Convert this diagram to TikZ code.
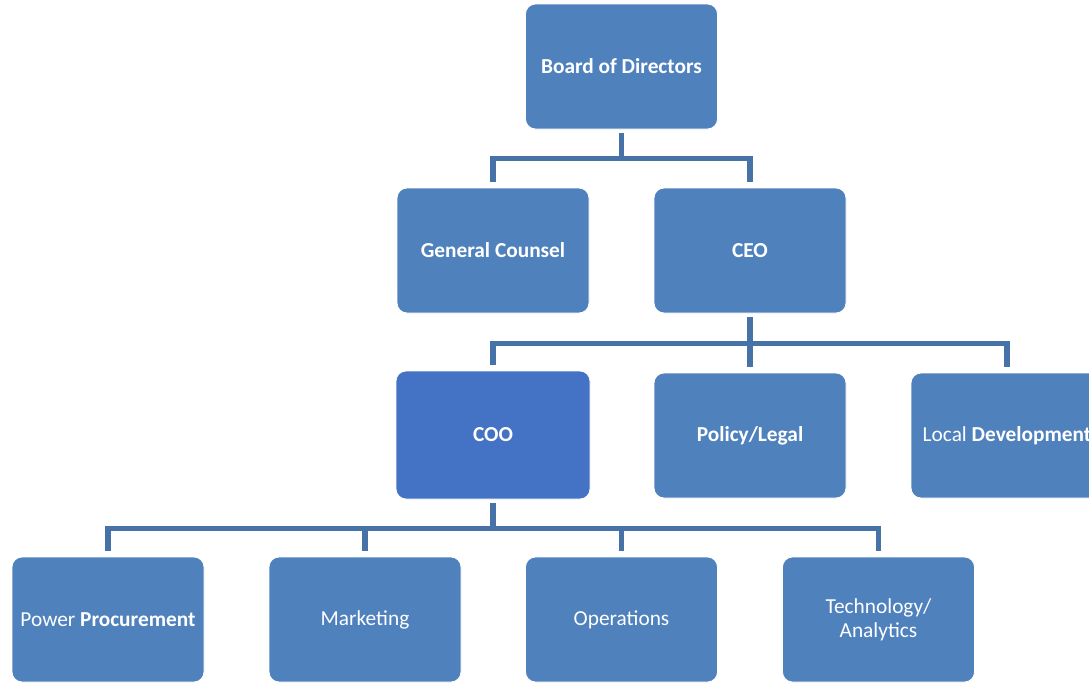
\documentclass[tikz,border=0pt]{standalone}
\usepackage{fontspec}
\setmainfont{Carlito}
\definecolor{boxblue}{HTML}{4F81BD}
\definecolor{cooblue}{HTML}{4472C4}
\definecolor{linkblue}{HTML}{4672A8}
\begin{document}
\begin{tikzpicture}[x=0.75pt,y=-0.75pt,
  orgbox/.style={draw=white,line width=0.6pt,fill=boxblue,rounded corners=7.5pt,
    minimum width=192*0.75pt,minimum height=125*0.75pt,inner sep=2pt,
    text=white,align=center,font=\fontsize{16}{18}\selectfont},
  link/.style={draw=linkblue,line width=3.8pt,shorten <=3pt,shorten >=4pt}]
\useasboundingbox (0,0) rectangle (1089,682);
\clip (0,0) rectangle (1089,682);

% top level
\node[orgbox] (board) at (621.5,66.5) {\textbf{Board of Directors}};

% second level
\node[orgbox] (gc)  at (493,250.5) {\textbf{General Counsel}};
\node[orgbox] (ceo) at (750,250.5) {\textbf{CEO}};

% third level
\node[orgbox,fill=cooblue,minimum width=194*0.75pt,minimum height=128*0.75pt] (coo) at (493,435) {\textbf{COO}};
\node[orgbox] (policy) at (750,435.5) {\textbf{Policy/Legal}};
\node[orgbox] (local)  at (1007,435.5) {Local \textbf{Development}};

% fourth level
\node[orgbox] (power) at (108,619.5) {Power \textbf{Procurement}};
\node[orgbox] (mkt)   at (365,619.5) {Marketing};
\node[orgbox] (ops)   at (621.5,619.5) {Operations};
\node[orgbox] (tech)  at (878.5,619.5) {Technology/\\Analytics};

% connectors
\draw[link] (board.south) -- ++(0,29) -| (gc.north);
\draw[link] (board.south) -- ++(0,29) -| (ceo.north);

\draw[link] (ceo.south) -- ++(0,30) -| (coo.north);
\draw[link] (ceo.south) -- (policy.north);
\draw[link] (ceo.south) -- ++(0,30) -| (local.north);

\draw[link] (coo.south) -- ++(0,29) -| (power.north);
\draw[link] (coo.south) -- ++(0,29) -| (mkt.north);
\draw[link] (coo.south) -- ++(0,29) -| (ops.north);
\draw[link] (coo.south) -- ++(0,29) -| (tech.north);
\end{tikzpicture}
\end{document}
